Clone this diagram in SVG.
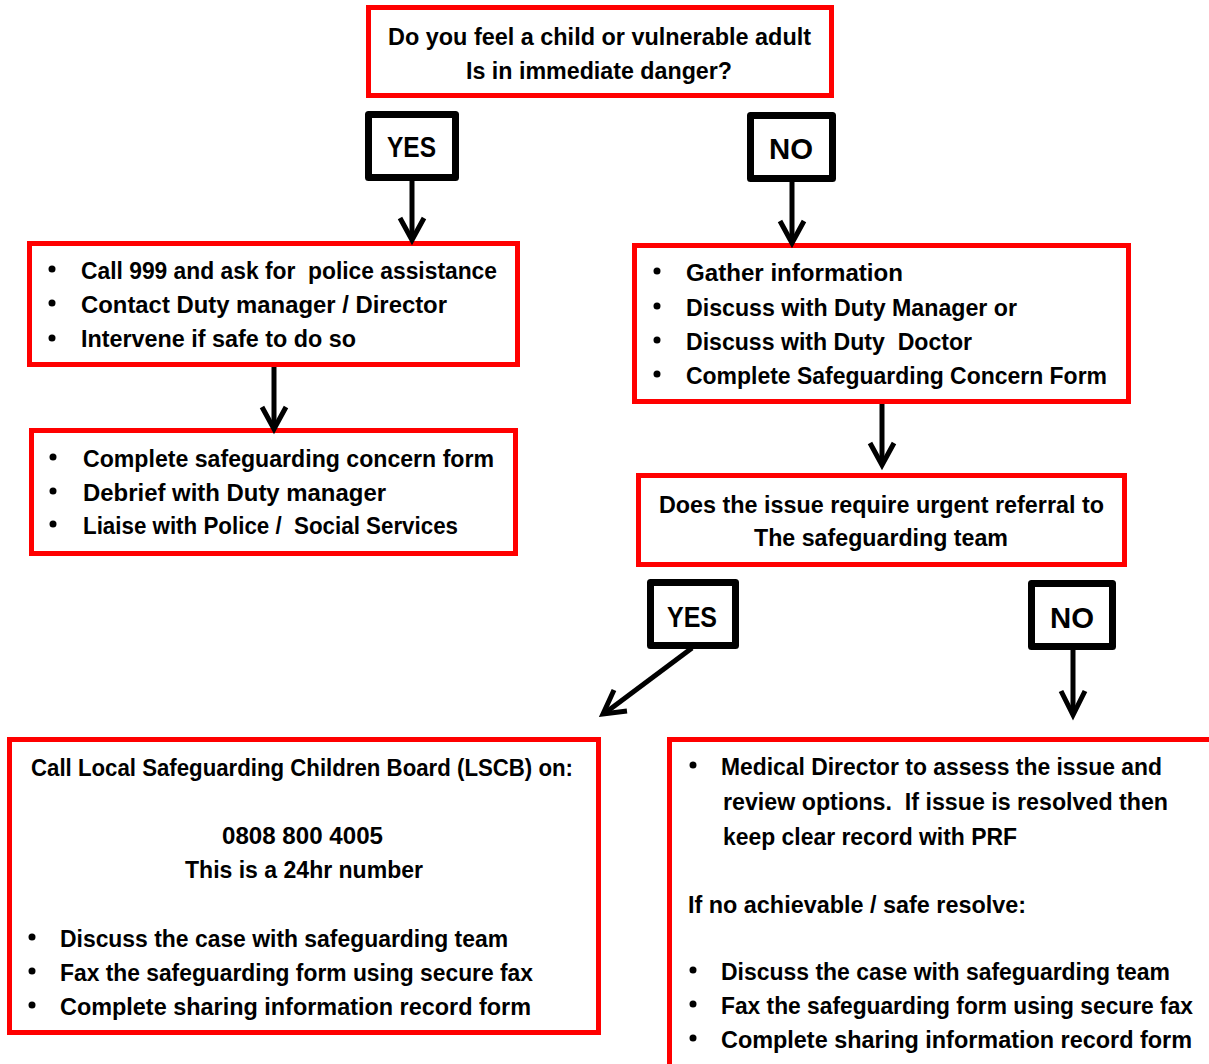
<svg xmlns="http://www.w3.org/2000/svg" width="1209" height="1064" viewBox="0 0 1209 1064">
<style>
.red{fill:#fff;stroke:#ff0000;stroke-width:5}
.blk{fill:#fff;stroke:#000;stroke-width:7;stroke-linejoin:round}
text{font-family:"Liberation Sans",Arial,sans-serif;font-weight:bold;font-size:23px;fill:#000}
.c{text-anchor:middle}
.lbl{font-size:30px}
.con line,.con polyline{fill:none;stroke:#000;stroke-width:5}
.b{fill:#000}
</style>
<rect width="1209" height="1064" fill="#fff"/>
<g id="q1">
<rect class="red" x="368.5" y="7.5" width="463" height="88"/>
<text x="388" y="45" textLength="423" lengthAdjust="spacingAndGlyphs">Do you feel a child or vulnerable adult</text>
<text x="466" y="79" textLength="266" lengthAdjust="spacingAndGlyphs">Is in immediate danger?</text>
</g>
<g id="yes1">
<rect class="blk" x="368.5" y="114.5" width="87" height="63"/>
<text class="lbl" x="387" y="157" textLength="49" lengthAdjust="spacingAndGlyphs">YES</text>
</g>
<g id="no1">
<rect class="blk" x="750.5" y="115.5" width="82" height="63"/>
<text class="lbl" x="769" y="159" textLength="44" lengthAdjust="spacingAndGlyphs">NO</text>
</g>
<g id="danger">
<rect class="red" x="29.5" y="243.5" width="488" height="121"/>
<circle class="b" cx="52" cy="269" r="3.5"/>
<circle class="b" cx="52" cy="303" r="3.5"/>
<circle class="b" cx="52" cy="338" r="3.5"/>
<text x="81" y="279" textLength="416" lengthAdjust="spacingAndGlyphs" xml:space="preserve">Call 999 and ask for  police assistance</text>
<text x="81" y="313" textLength="366" lengthAdjust="spacingAndGlyphs">Contact Duty manager / Director</text>
<text x="81" y="347" textLength="275" lengthAdjust="spacingAndGlyphs">Intervene if safe to do so</text>
</g>
<g id="after">
<rect class="red" x="31.5" y="430.5" width="484" height="123"/>
<circle class="b" cx="53" cy="457" r="3.5"/>
<circle class="b" cx="53" cy="491" r="3.5"/>
<circle class="b" cx="53" cy="524" r="3.5"/>
<text x="83" y="467" textLength="411" lengthAdjust="spacingAndGlyphs">Complete safeguarding concern form</text>
<text x="83" y="501" textLength="303" lengthAdjust="spacingAndGlyphs">Debrief with Duty manager</text>
<text x="83" y="534" textLength="375" lengthAdjust="spacingAndGlyphs" xml:space="preserve">Liaise with Police /  Social Services</text>
</g>
<g id="gather">
<rect class="red" x="634.5" y="245.5" width="494" height="156"/>
<circle class="b" cx="657" cy="271" r="3.5"/>
<circle class="b" cx="657" cy="306" r="3.5"/>
<circle class="b" cx="657" cy="340" r="3.5"/>
<circle class="b" cx="657" cy="374" r="3.5"/>
<text x="686" y="281" textLength="217" lengthAdjust="spacingAndGlyphs">Gather information</text>
<text x="686" y="316" textLength="331" lengthAdjust="spacingAndGlyphs">Discuss with Duty Manager or</text>
<text x="686" y="350" textLength="286" lengthAdjust="spacingAndGlyphs" xml:space="preserve">Discuss with Duty  Doctor</text>
<text x="686" y="384" textLength="421" lengthAdjust="spacingAndGlyphs">Complete Safeguarding Concern Form</text>
</g>
<g id="q2">
<rect class="red" x="638.5" y="475.5" width="486" height="89"/>
<text x="659" y="513" textLength="445" lengthAdjust="spacingAndGlyphs">Does the issue require urgent referral to</text>
<text x="754" y="546" textLength="254" lengthAdjust="spacingAndGlyphs">The safeguarding team</text>
</g>
<g id="yes2">
<rect class="blk" x="650.5" y="582.5" width="85" height="63"/>
<text class="lbl" x="667" y="627" textLength="50" lengthAdjust="spacingAndGlyphs">YES</text>
</g>
<g id="no2">
<rect class="blk" x="1031.5" y="583.5" width="81" height="63"/>
<text class="lbl" x="1050" y="628" textLength="44" lengthAdjust="spacingAndGlyphs">NO</text>
</g>
<g id="lscb">
<rect class="red" x="9.5" y="739.5" width="589" height="293"/>
<text x="31" y="776" textLength="542" lengthAdjust="spacingAndGlyphs">Call Local Safeguarding Children Board (LSCB) on:</text>
<text x="222" y="844" textLength="161" lengthAdjust="spacingAndGlyphs">0808 800 4005</text>
<text x="185" y="878" textLength="238" lengthAdjust="spacingAndGlyphs">This is a 24hr number</text>
<circle class="b" cx="32" cy="937" r="3.5"/>
<circle class="b" cx="32" cy="971" r="3.5"/>
<circle class="b" cx="32" cy="1005" r="3.5"/>
<text x="60" y="947" textLength="448" lengthAdjust="spacingAndGlyphs">Discuss the case with safeguarding team</text>
<text x="60" y="981" textLength="473" lengthAdjust="spacingAndGlyphs">Fax the safeguarding form using secure fax</text>
<text x="60" y="1015" textLength="471" lengthAdjust="spacingAndGlyphs">Complete sharing information record form</text>
</g>
<g id="medical">
<rect class="red" x="669.5" y="739.5" width="600" height="400"/>
<circle class="b" cx="693" cy="765" r="3.5"/>
<text x="721" y="775" textLength="441" lengthAdjust="spacingAndGlyphs">Medical Director to assess the issue and</text>
<text x="723" y="810" textLength="445" lengthAdjust="spacingAndGlyphs" xml:space="preserve">review options.  If issue is resolved then</text>
<text x="723" y="845" textLength="294" lengthAdjust="spacingAndGlyphs">keep clear record with PRF</text>
<text x="688" y="913" textLength="338" lengthAdjust="spacingAndGlyphs">If no achievable / safe resolve:</text>
<circle class="b" cx="693" cy="970" r="3.5"/>
<circle class="b" cx="693" cy="1004" r="3.5"/>
<circle class="b" cx="693" cy="1038" r="3.5"/>
<text x="721" y="980" textLength="449" lengthAdjust="spacingAndGlyphs">Discuss the case with safeguarding team</text>
<text x="721" y="1014" textLength="472" lengthAdjust="spacingAndGlyphs">Fax the safeguarding form using secure fax</text>
<text x="721" y="1048" textLength="471" lengthAdjust="spacingAndGlyphs">Complete sharing information record form</text>
</g>
<g id="connectors" class="con">
<line x1="412" y1="181" x2="412" y2="238"/>
<polyline points="400,218 412,240 424,218"/>
<line x1="792" y1="182" x2="792" y2="241"/>
<polyline points="780,221 792,243 804,221"/>
<line x1="274" y1="367" x2="274" y2="427"/>
<polyline points="262,407 274,429 286,407"/>
<line x1="882" y1="404" x2="882" y2="463"/>
<polyline points="870,443 882,465 894,443"/>
<line x1="692" y1="648" x2="605" y2="713"/>
<polyline points="614,690 603,714 627,711"/>
<line x1="1073" y1="650" x2="1073" y2="713"/>
<polyline points="1061,691 1073,715 1085,691"/>
</g>
</svg>
